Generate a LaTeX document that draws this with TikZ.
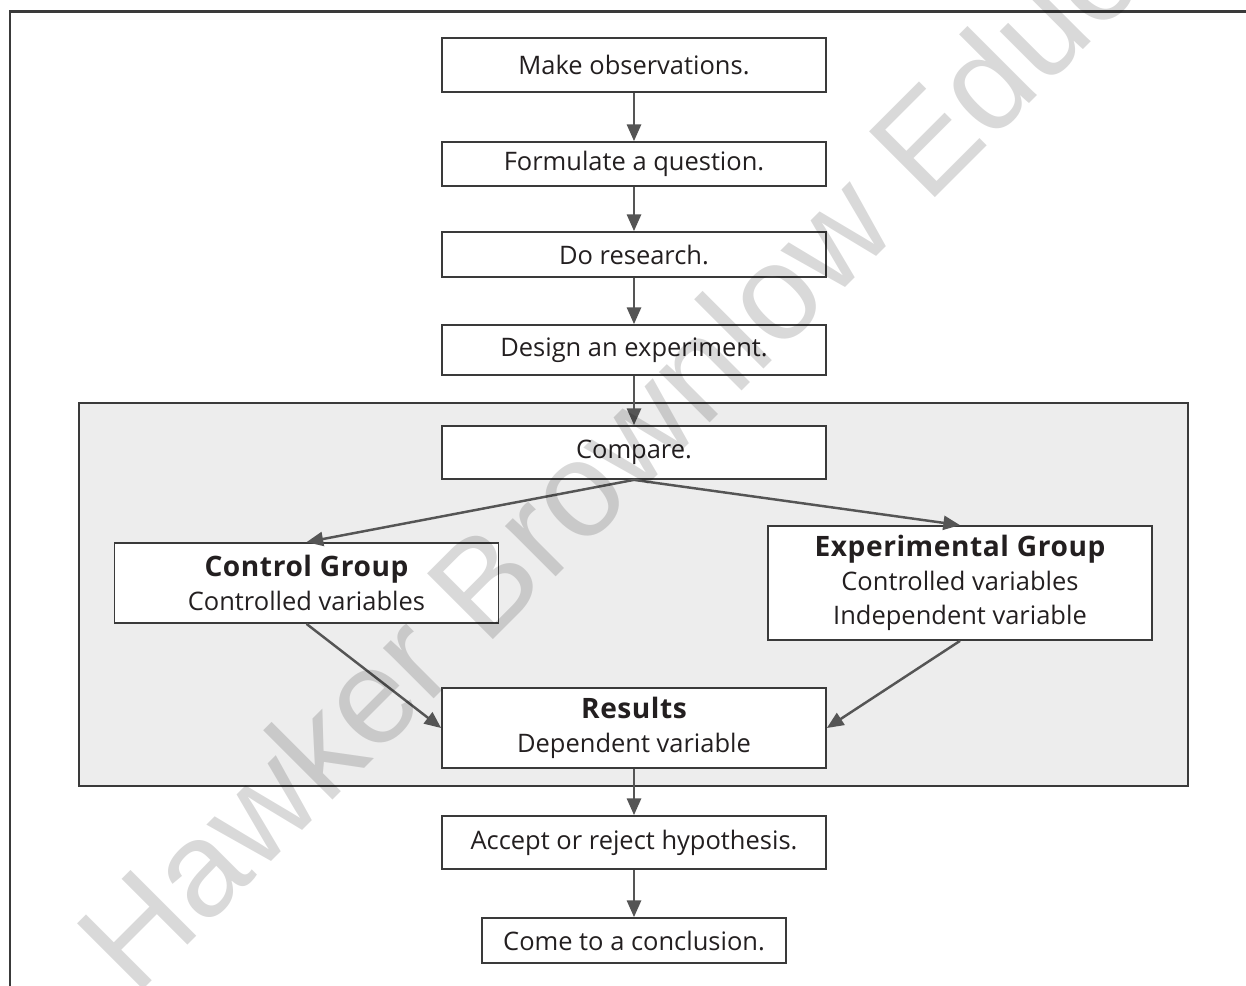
\documentclass[tikz,border=0pt]{standalone}
\usepackage{fontspec}
\setmainfont{Open Sans}
\newfontfamily\markfont{Liberation Sans}
\usepackage{tikz}
\usetikzlibrary{arrows.meta}
\definecolor{panelgray}{HTML}{EDEDED}
\definecolor{linegray}{HTML}{3A3A3A}
\definecolor{arrowgray}{HTML}{555555}
\definecolor{inkblack}{HTML}{231F20}
\newcommand\headtext[1]{{\fontsize{16}{19.3}\selectfont\bfseries\addfontfeature{LetterSpace=2}#1}}
\tikzset{
  box/.style={draw=linegray, fill=white, line width=1pt, minimum width=7.68cm,
    inner sep=0pt, align=center, text=inkblack, font=\fontsize{14.5}{19.3}\selectfont},
  flow/.style={draw=arrowgray, line width=1.4pt, -{Triangle[length=9.5pt,width=8pt]}},
  panel/.style={draw=linegray, fill=panelgray, line width=0.9pt},
  frame/.style={draw=linegray, line width=1.2pt},
  watermark/.style={text=black, text opacity=0.15, inner sep=0pt,
    font=\markfont\fontsize{77}{77}\selectfont}
}
\begin{document}
\begin{tikzpicture}[x=0.02cm, y=-0.02cm]
        \clip (0,0) rectangle (1246,985);
        \fill[white] (0,0) rectangle (1246,985);
        \draw[frame] (10,990) -- (10,11.5) -- (1250,11.5);
        \draw[panel] (79,403) rectangle (1188,786);

        \node[box, minimum height=1.08cm] (obs) at (634,65) {Make observations.};
        \node[box, minimum height=0.88cm] (quest) at (634,164) {Formulate a question.};
        \node[box, minimum height=0.9cm] (research) at (634,254.5) {Do research.};
        \node[box, minimum height=1.0cm] (design) at (634,350) {Design an experiment.};
        \node[box, minimum height=1.06cm] (compare) at (634,452.5) {Compare.};
        \node[box, minimum height=1.6cm] (control) at (306.5,583) {\headtext{Control Group}\\Controlled variables};
        \node[box, minimum height=2.28cm] (exper) at (960,583) {\headtext{Experimental Group}\\Controlled variables\\Independent variable};
        \node[box, minimum height=1.6cm] (results) at (634,728) {\headtext{Results}\\Dependent variable};
        \node[box, minimum height=1.06cm] (accept) at (634,842.5) {Accept or reject hypothesis.};
        \node[box, minimum height=0.9cm, minimum width=6.08cm] (concl) at (634,940.5) {Come to a conclusion.};

        \draw[flow] (obs) -- (quest);
        \draw[flow] (quest) -- (research);
        \draw[flow] (research) -- (design);
        \draw[flow] (design) -- (compare);
        \draw[flow] (compare.south) -- (control.north);
        \draw[flow] (compare.south) -- (exper.north);
        \draw[flow] (control.south) -- (results.west);
        \draw[flow] (exper.south) -- (results.east);
        \draw[flow] (results) -- (accept);
        \draw[flow] (accept) -- (concl);

        \node[watermark, rotate=45, anchor=base west] (mark) at (135,998) {Hawker Brownlow Education};
\end{tikzpicture}
\end{document}
